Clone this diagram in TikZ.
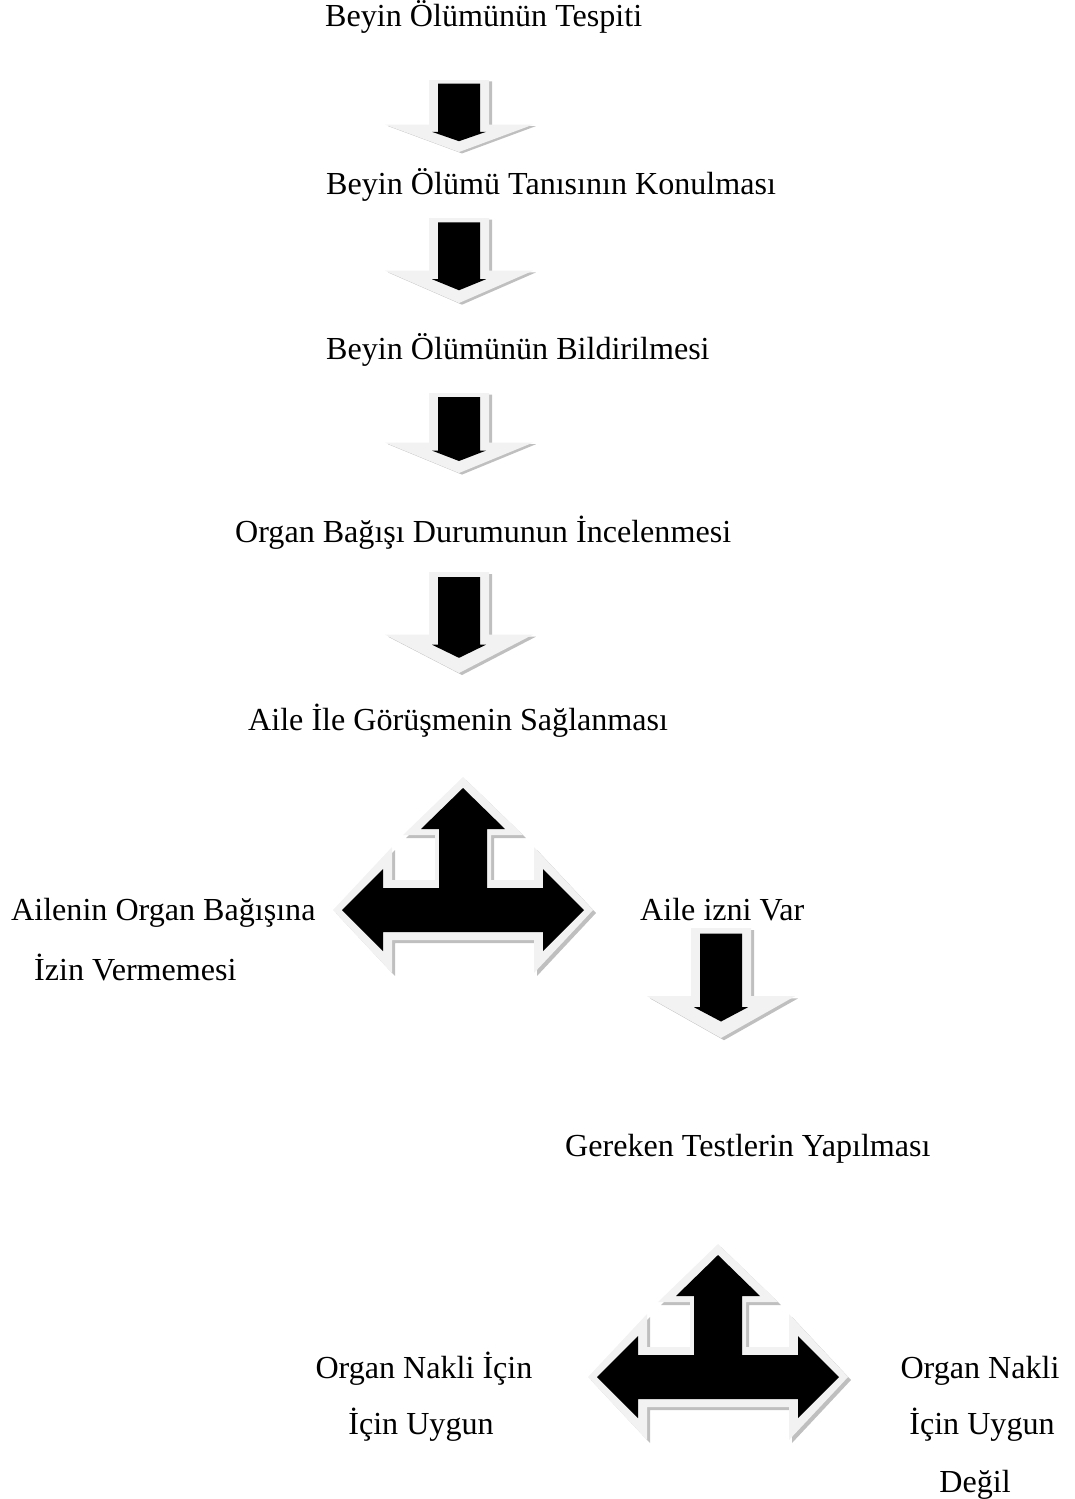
\documentclass[tikz,border=0pt]{standalone}
\usepackage{fontspec}
\setmainfont{Liberation Serif}
\usepackage{tikz}

\definecolor{bevel}{HTML}{F2F2F2}
\definecolor{bevelshadow}{HTML}{BFBFBF}

\newcommand{\downblock}[3]{%
  \begin{scope}[shift={(#1,#2)}, yscale=#3/100]
    \fill[bevelshadow, shift={(3,2)}] (-30,0) -- (30,0) -- (30,62) -- (74,62) -- (0,100) -- (-74,62) -- (-30,62) -- cycle;
    \fill[bevel] (-30,0) -- (30,0) -- (30,62) -- (74,62) -- (0,100) -- (-74,62) -- (-30,62) -- cycle;
    \fill[black] (-21,5) -- (21,5) -- (21,72) -- (27,72) -- (0,85) -- (-27,72) -- (-21,72) -- cycle;
  \end{scope}}

\newcommand{\teeblock}[2]{%
  \begin{scope}[shift={(#1,#2)}]
    \fill[bevelshadow, shift={(3,3)}] (0,-133) -- (60,-75) -- (28,-75) -- (28,-30) -- (71,-30) -- (71,-63) -- (130,0) -- (71,63) -- (71,30) -- (-71,30) -- (-71,63) -- (-130,0) -- (-71,-63) -- (-71,-30) -- (-28,-30) -- (-28,-75) -- (-60,-75) -- cycle;
    \fill[bevel] (0,-133) -- (60,-75) -- (28,-75) -- (28,-30) -- (71,-30) -- (71,-63) -- (130,0) -- (71,63) -- (71,30) -- (-71,30) -- (-71,63) -- (-130,0) -- (-71,-63) -- (-71,-30) -- (-28,-30) -- (-28,-75) -- (-60,-75) -- cycle;
    \fill[black] (0,-122) -- (42,-81) -- (24,-81) -- (24,-22) -- (80,-22) -- (80,-41) -- (121,0) -- (80,41) -- (80,22) -- (-80,22) -- (-80,41) -- (-121,0) -- (-80,-41) -- (-80,-22) -- (-24,-22) -- (-24,-81) -- (-42,-81) -- cycle;
  \end{scope}}

\begin{document}
\begin{tikzpicture}[x=1pt, y=-1pt,
    every node/.style={font=\fontsize{32.1}{38}\selectfont, inner sep=0pt},
    flowtext/.style={anchor=base west},
    sidetext/.style={anchor=base}]
    \useasboundingbox (0,0) rectangle (1074,1499);

    \downblock{459}{80}{72}
    \downblock{459}{218}{85}
    \downblock{459}{393}{80}
    \downblock{459}{572}{101}
    \teeblock{463}{910}
    \downblock{721}{928}{110}
    \teeblock{718}{1377}

    \node[flowtext] (tespit) at (325,27) {Beyin Ölümünün Tespiti};
    \node[flowtext] (tani) at (326,194) {Beyin Ölümü Tanısının Konulması};
    \node[flowtext] (bildirim) at (326,359) {Beyin Ölümünün Bildirilmesi};
    \node[flowtext] (bagis) at (235,542) {Organ Bağışı Durumunun İncelenmesi};
    \node[flowtext] (aile) at (248,730) {Aile İle Görüşmenin Sağlanması};
    \node[flowtext] (ret1) at (11,920) {Ailenin Organ Bağışına};
    \node[flowtext] (ret2) at (34,980) {İzin Vermemesi};
    \node[flowtext] (izin) at (640,920) {Aile izni Var};
    \node[flowtext] (testler) at (565,1156) {Gereken Testlerin Yapılması};
    \node[sidetext] (uygun1) at (424,1378) {Organ Nakli İçin};
    \node[sidetext] (uygun2) at (421,1434) {İçin Uygun};
    \node[sidetext] (degil1) at (980,1378) {Organ Nakli};
    \node[sidetext] (degil2) at (982,1434) {İçin Uygun};
    \node[sidetext] (degil3) at (975,1492) {Değil};
\end{tikzpicture}
\end{document}
